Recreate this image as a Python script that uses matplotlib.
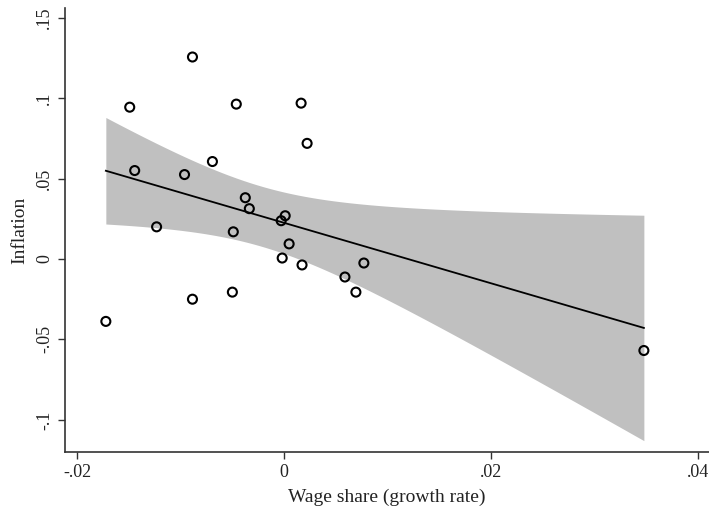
import numpy as np
import matplotlib
matplotlib.use("Agg")
import matplotlib.pyplot as plt

# wage share growth vs inflation
wage_share = [-0.00887, -0.01494, -0.00463, 0.00164, 0.00222, -0.01446, -0.00694,
              -0.00964, -0.00376, -0.00337, -0.01234, -0.00492, 0.00010, -0.00029,
              0.00048, -0.00019, 0.00173, 0.00588, 0.00771, 0.00694, -0.00501,
              -0.00887, -0.01725, 0.03480]
inflation = [0.1256, 0.0944, 0.0963, 0.0969, 0.0719, 0.0550, 0.0606,
             0.0525, 0.0381, 0.0313, 0.0200, 0.0169, 0.0269, 0.0238,
             0.0094, 0.0006, -0.0037, -0.0112, -0.0025, -0.0206, -0.0206,
             -0.0250, -0.0388, -0.0569]
x_ticks = [-0.02, 0, 0.02, 0.04]
x_labels = ["-.02", "0", ".02", ".04"]
y_ticks = [-0.1, -0.05, 0, 0.05, 0.1, 0.15]
y_labels = ["-.1", "-.05", "0", ".05", ".1", ".15"]

plt.rcParams["font.family"] = ["Liberation Serif", "DejaVu Serif"]

x = np.array(wage_share)
y = np.array(inflation)
n = len(x)

# OLS fit with 95% CI of the mean prediction (like Stata lfitci)
b1, b0 = np.polyfit(x, y, 1)
resid = y - (b0 + b1 * x)
s = np.sqrt(np.sum(resid ** 2) / (n - 2))
t_crit = 2.074  # t(0.975, 22)
xs = np.linspace(x.min(), x.max(), 200)
yhat = b0 + b1 * xs
se = s * np.sqrt(1.0 / n + (xs - x.mean()) ** 2 / np.sum((x - x.mean()) ** 2))

fig = plt.figure(figsize=(7.09, 5.07), dpi=100)
ax = fig.add_axes([0.0917, 0.1085, 0.9083, 0.8755])

ax.fill_between(xs, yhat - t_crit * se, yhat + t_crit * se, color="#c0c0c0", lw=0, zorder=1)
ax.plot(xs, yhat, color="black", lw=1.3, zorder=2)
ax.scatter(x, y, s=42, facecolors="none", edgecolors="black", linewidths=1.5, zorder=3)

ax.set_xlim(-0.0212, 0.0411)
ax.set_ylim(-0.12, 0.156)
ax.set_xticks(x_ticks)
ax.set_xticklabels(x_labels)
ax.set_yticks(y_ticks)
ax.set_yticklabels(y_labels, rotation=90, va="center")

for side in ["top", "right"]:
    ax.spines[side].set_visible(False)
for side in ["left", "bottom"]:
    ax.spines[side].set_color("#333333")
    ax.spines[side].set_linewidth(1.2)
ax.tick_params(direction="out", length=5, width=1, colors="#333333", labelsize=13, labelcolor="#222222")

ax.set_xlabel("Wage share (growth rate)", fontsize=14, color="#222222", labelpad=6)
ax.set_ylabel("Inflation", fontsize=14, color="#222222", labelpad=6)

fig.savefig("out.png", dpi=100)
